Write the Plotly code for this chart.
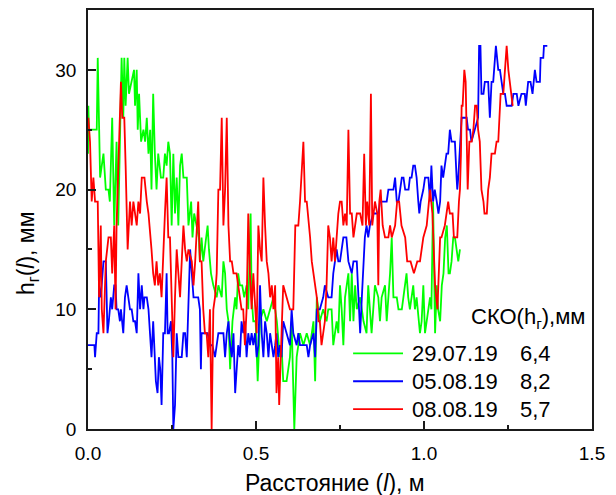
import plotly.graph_objects as go

# ---- data: 29.07.19 (green) ----
g_x = [0.000,0.001,0.003,0.026,0.029,0.036,0.046,0.053,0.061,0.065,0.072,0.078,0.085,0.090,0.095,0.100,0.105,0.108,0.112,0.118,
       0.122,0.130,0.137,0.140,0.145,0.148,0.152,0.158,0.165,0.170,0.175,0.180,0.185,0.189,0.194,0.199,0.204,0.209,0.217,0.224,
       0.229,0.234,0.239,0.244,0.249,0.254,0.259,0.264,0.269,0.274,0.279,0.284,0.294,0.299,0.307,0.311,0.316,0.323,0.330,0.333,
       0.338,0.343,0.348,0.356,0.360,0.366,0.373,0.383,0.388,0.398,0.403,0.408,0.413,0.418,0.423,0.430,0.438,0.442,0.447,0.452,
       0.459,0.465,0.472,0.477,0.484,0.487,0.492,0.499,0.505,0.512,0.522,0.532,0.542,0.552,0.562,0.571,0.576,0.581,0.591,0.601,
       0.606,0.614,0.621,0.631,0.641,0.651,0.661,0.671,0.676,0.681,0.690,0.700,0.710,0.715,0.725,0.730,0.740,0.745,0.750,0.755,
       0.760,0.765,0.775,0.780,0.785,0.790,0.795,0.800,0.810,0.820,0.829,0.834,0.844,0.854,0.864,0.869,0.874,0.884,0.889,0.894,
       0.899,0.904,0.909,0.919,0.924,0.934,0.944,0.948,0.953,0.958,0.968,0.973,0.978,0.988,0.993,0.998,1.003,1.008,1.018,1.022,
       1.027,1.033,1.038,1.042,1.048,1.053,1.058,1.063,1.068,1.073,1.077,1.082,1.087,1.092,1.097,1.102,1.107]
g_y = [23,27,25,25,31,21,23,20,20,19,26,17,24,17,24,31,26,31,27,31,
       28,29,30,27,30,25,28,24,25,24,26,23,25,20,28,23,20,23,21,21,
       23,22,24,23,17,23,18,21,17,22,23,21,21,17,19,16,18,17,16,14,
       16,14,15,17,15,13,12,11,12,11,14,13,10,9,5,9,11,10,13,12,
       12,11,12,10,18,11,9,9,4,9,10,9,10,11,9,6,7,4,4,6,
       9,0,6,8,7,8,7,9,4,11,9,10,9,10,10,7,9,8,12,10,
       7,11,13,9,13,9,12,10,11,9,8,12,8,12,11,9,11,12,9,11,
       13,16,11,11,10,10,12,13,11,10,12,10,11,8,9,12,8,9,11,10,
       19,8,12,10,9,12,13,16,17,13,13,14,16,16,15,14,15]

# ---- data: 05.08.19 (blue) ----
b_x = [0.000,0.019,0.021,0.026,0.031,0.033,0.038,0.046,0.053,0.056,0.058,0.062,0.068,0.072,0.078,0.082,0.085,0.090,0.095,0.098,
       0.105,0.110,0.115,0.120,0.125,0.130,0.135,0.140,0.145,0.150,0.155,0.160,0.165,0.168,0.175,0.180,0.185,0.189,0.194,0.199,
       0.202,0.207,0.211,0.215,0.219,0.224,0.229,0.234,0.237,0.241,0.247,0.251,0.254,0.259,0.264,0.269,0.274,0.279,0.284,0.289,
       0.294,0.299,0.304,0.309,0.314,0.319,0.328,0.333,0.336,0.338,0.348,0.356,0.363,0.370,0.378,0.388,0.398,0.403,0.408,0.413,
       0.418,0.423,0.428,0.433,0.438,0.442,0.447,0.452,0.457,0.462,0.467,0.472,0.477,0.482,0.487,0.492,0.497,0.502,0.507,0.512,
       0.517,0.522,0.527,0.532,0.537,0.542,0.547,0.552,0.557,0.561,0.566,0.571,0.576,0.581,0.591,0.601,0.606,0.611,0.621,0.626,
       0.631,0.641,0.651,0.656,0.661,0.671,0.676,0.681,0.690,0.700,0.705,0.715,0.725,0.730,0.735,0.740,0.745,0.750,0.755,0.760,
       0.769,0.775,0.785,0.790,0.800,0.805,0.810,0.815,0.820,0.824,0.829,0.834,0.839,0.849,0.864,0.869,0.889,0.894,0.909,0.914,
       0.919,0.924,0.929,0.934,0.939,0.944,0.954,0.958,0.963,0.968,0.973,0.978,0.983,0.986,0.990,0.998,1.003,1.013,1.018,1.022,
       1.027,1.032,1.038,1.043,1.048,1.052,1.057,1.062,1.067,1.072,1.077,1.082,1.092,1.097,1.099,1.102,1.112,1.127,1.131,1.137,
       1.141,1.151,1.161,1.164,1.168,1.171,1.177,1.181,1.191,1.196,1.201,1.206,1.214,1.221,1.226,1.231,1.236,1.241,1.246,1.261,
       1.266,1.276,1.281,1.290,1.300,1.303,1.307,1.310,1.317,1.323,1.330,1.335,1.345,1.347,1.355,1.357,1.367]
b_y = [7,7,6,8,8,12,11,14,14,11,8,9,11,10,12,12,10,10,9,10,
       8,11,12,11,10,10,9,9,8,13,10,12,10,11,11,10,8,6,9,5,
       4,3,6,5,2,8,8,13,8,8,9,6,0,2,8,6,6,6,8,8,
       6,11,15,13,11,11,11,10,5,8,8,8,7,7,6,8,8,8,6,8,
       9,7,6,8,3,5,7,6,9,8,9,6,8,7,8,7,8,6,7,12,
       8,6,9,8,6,8,7,6,7,8,6,7,6,9,8,7,10,8,7,8,
       7,7,7,6,7,8,6,10,10,11,12,11,11,13,14,15,14,14,15,16,
       16,14,13,14,14,11,8,11,14,16,17,16,17,18,18,19,19,20,20,21,
       19,19,20,21,21,20,20,21,21,22,22,21,19,18,19,20,21,21,19,22,
       19,20,19,18,19,22,21,22,23,23,25,24,24,21,20,21,26,26,25,25,
       24,25,26,32,32,28,28,29,29,26,29,29,32,30,30,29,28,28,27,27,
       28,28,27,28,28,27,28,29,29,28,30,29,29,31,31,32,32]

# ---- data: 08.08.19 (red) ----
r_x = [0.001,0.006,0.011,0.016,0.021,0.029,0.033,0.038,0.041,0.046,0.053,0.061,0.068,0.072,0.078,0.082,0.085,0.090,0.095,0.098,
       0.102,0.108,0.112,0.118,0.125,0.130,0.135,0.140,0.145,0.150,0.155,0.160,0.168,0.175,0.180,0.189,0.194,0.199,0.204,0.209,
       0.214,0.219,0.224,0.229,0.234,0.239,0.244,0.249,0.254,0.259,0.264,0.269,0.274,0.279,0.284,0.289,0.294,0.299,0.309,0.314,
       0.319,0.328,0.333,0.338,0.343,0.348,0.353,0.358,0.363,0.368,0.373,0.378,0.383,0.388,0.393,0.398,0.403,0.408,0.413,0.418,
       0.423,0.428,0.433,0.438,0.442,0.447,0.452,0.457,0.462,0.467,0.472,0.477,0.482,0.487,0.492,0.497,0.502,0.507,0.512,0.517,
       0.522,0.527,0.532,0.537,0.542,0.547,0.552,0.557,0.561,0.566,0.569,0.576,0.581,0.591,0.601,0.611,0.617,0.626,0.631,0.641,
       0.646,0.651,0.655,0.661,0.666,0.671,0.676,0.681,0.686,0.690,0.695,0.700,0.705,0.710,0.715,0.720,0.725,0.730,0.735,0.740,
       0.745,0.750,0.755,0.760,0.765,0.770,0.775,0.780,0.785,0.790,0.795,0.800,0.810,0.817,0.822,0.827,0.831,0.837,0.842,0.846,
       0.854,0.861,0.864,0.867,0.871,0.877,0.884,0.894,0.899,0.904,0.914,0.920,0.926,0.933,0.944,0.950,0.960,0.970,0.980,0.988,
       0.998,1.008,1.018,1.025,1.033,1.040,1.048,1.052,1.062,1.072,1.077,1.085,1.089,1.095,1.099,1.104,1.107,1.110,1.112,1.115,
       1.117,1.120,1.124,1.127,1.130,1.135,1.142,1.147,1.152,1.157,1.161,1.166,1.171,1.177,1.180,1.187,1.191,1.196,1.201,1.211,
       1.216,1.221,1.224,1.228,1.236,1.241,1.246,1.251,1.256,1.261,1.264]
r_y = [26,24,19,21,19,19,11,17,10,8,14,16,16,13,17,10,17,21,25,29,
       26,26,22,15,19,17,19,18,17,19,18,21,21,19,18,15,13,12,14,12,
       13,11,15,18,21,16,16,11,6,11,15,13,11,14,17,15,14,15,14,12,
       14,19,14,14,10,8,8,6,10,0,10,11,13,20,20,26,17,20,26,17,
       14,14,13,13,13,12,11,10,10,7,10,18,13,10,13,10,8,17,15,14,
       21,17,14,13,11,12,10,12,3,6,2,8,12,11,10,10,17,17,19,24,
       19,19,18,16,14,13,12,11,9,9,7,8,9,12,17,16,14,16,14,16,
       18,19,19,17,18,17,25,18,18,16,17,18,18,17,23,17,19,17,28,17,
       19,18,12,19,20,17,16,16,17,16,17,19,19,17,16,14,14,13,14,14,
       16,17,20,18,12,10,16,16,17,19,18,18,16,16,16,19,20,23,27,27,
       28,30,29,24,20,24,24,25,27,27,25,24,20,19,18,18,20,21,23,23,
       24,24,26,28,28,30,32,30,29,28,27]

series_names = ["29.07.19", "05.08.19", "08.08.19"]
series_sko = ["6,4", "8,2", "5,7"]
series_colors = ["#00FF00", "#0000FF", "#FF0000"]
x_ticks = [0.0, 0.5, 1.0, 1.5]
y_ticks = [0, 10, 20, 30]

FONT = "Liberation Sans, Arial, sans-serif"

fig = go.Figure()
for xs, ys, name, col in zip([g_x, b_x, r_x], [g_y, b_y, r_y], series_names, series_colors):
    fig.add_trace(go.Scatter(x=xs, y=ys, mode="lines", name=name,
                             line=dict(color=col, width=1.8), showlegend=False))

axis_common = dict(showline=True, linecolor="#1a1a1a", linewidth=1.5, mirror=True,
                   ticks="inside", ticklen=8, tickwidth=1.5, tickcolor="#1a1a1a",
                   showgrid=False, zeroline=False,
                   tickfont=dict(family=FONT, size=19, color="#000"))

fig.update_xaxes(range=[0, 1.5], tickvals=x_ticks, ticktext=[f"{v:.1f}" for v in x_ticks],
                 minor=dict(ticks="inside", ticklen=4, tickwidth=1.5, tickcolor="#1a1a1a",
                            tickvals=[0.25, 0.75, 1.25]),
                 ticklabelstandoff=6, **axis_common)
fig.update_yaxes(range=[0, 35], tickvals=y_ticks,
                 minor=dict(ticks="inside", ticklen=4, tickwidth=1.5, tickcolor="#1a1a1a",
                            tickvals=[5, 15, 25]),
                 ticklabelstandoff=6, **axis_common)

annotations = [
    dict(text="Расстояние (<i>l</i>), м", xref="paper", yref="paper", x=0.49, y=-0.128,
         xanchor="center", yanchor="middle", showarrow=False,
         font=dict(family=FONT, size=23, color="#000")),
    dict(text="h<sub>г</sub>(<i>l</i>), мм", xref="paper", yref="paper", x=-0.121, y=0.42,
         xanchor="center", yanchor="middle", textangle=-90, showarrow=False,
         font=dict(family=FONT, size=23, color="#000")),
    dict(text="СКО(h<sub>г</sub>),мм", xref="paper", yref="paper", x=0.99, y=0.264,
         xanchor="right", yanchor="middle", showarrow=False,
         font=dict(family=FONT, size=22, color="#000")),
]
shapes = []
row_y = [0.1805, 0.114, 0.0475]
for name, sko, col, yy in zip(series_names, series_sko, series_colors, row_y):
    shapes.append(dict(type="line", xref="paper", yref="paper", x0=0.526, x1=0.625, y0=yy, y1=yy,
                       line=dict(color=col, width=1.8)))
    annotations.append(dict(text=name, xref="paper", yref="paper", x=0.639, y=yy,
                            xanchor="left", yanchor="middle", showarrow=False,
                            font=dict(family=FONT, size=22, color="#000")))
    annotations.append(dict(text=sko, xref="paper", yref="paper", x=0.853, y=yy,
                            xanchor="left", yanchor="middle", showarrow=False,
                            font=dict(family=FONT, size=22, color="#000")))

fig.update_layout(width=616, height=495, margin=dict(l=88, r=24, t=8, b=66),
                  paper_bgcolor="white", plot_bgcolor="white",
                  annotations=annotations, shapes=shapes, showlegend=False)

fig.write_html("out.html")
